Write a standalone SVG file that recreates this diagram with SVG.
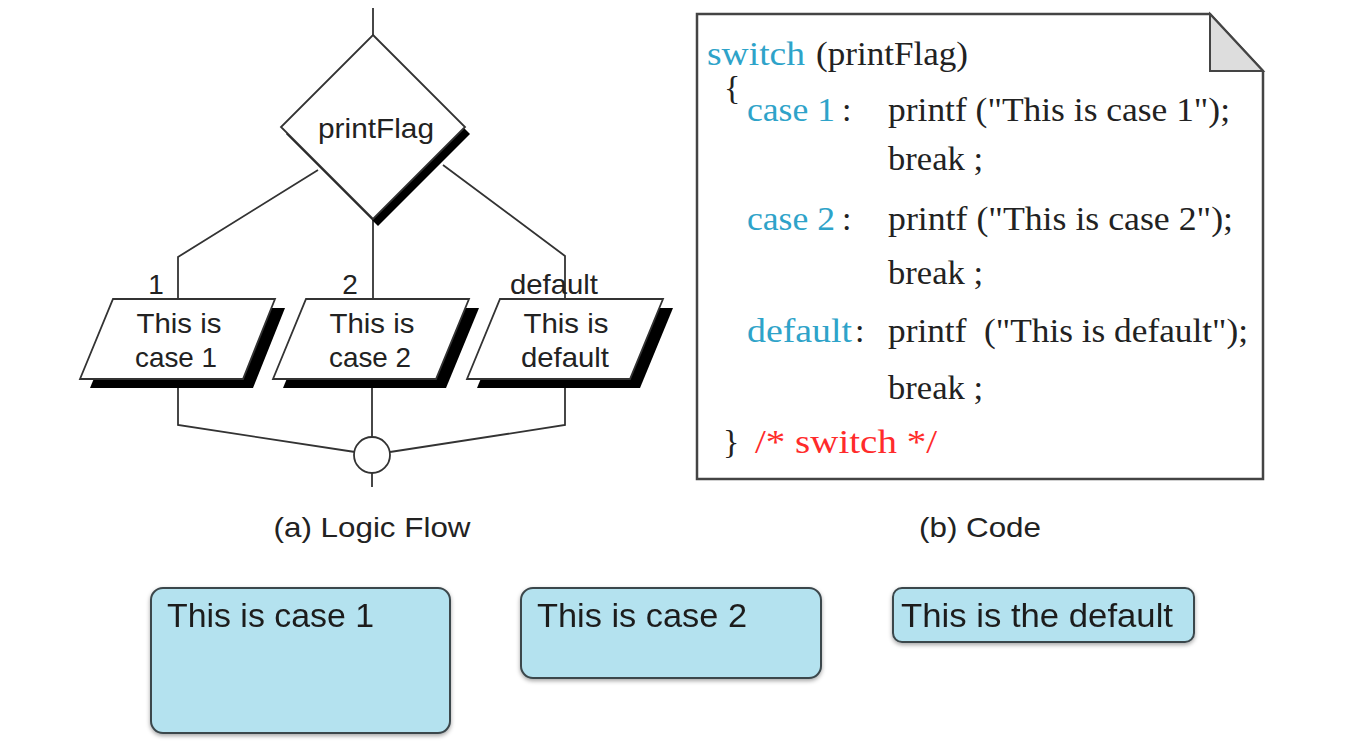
<svg xmlns="http://www.w3.org/2000/svg" width="1350" height="743" viewBox="0 0 1350 743">
<defs>
<style>
.ln{fill:none;stroke:#333;stroke-width:1.8}
.shape{fill:#fff;stroke:#333;stroke-width:1.8}
.shadow{fill:#000;stroke:none}
.sans{font-family:"Liberation Sans",Arial,sans-serif;fill:#222}
.fl{font-size:28px}
.serif{font-family:"Liberation Serif","Times New Roman",serif;font-size:34px;fill:#222}
.kw{fill:#2ea3c9}
.cm{fill:#ff2b2b}
.card{fill:#b4e2ef;stroke:#3b474c;stroke-width:2}
.cardtxt{font-family:"Liberation Sans",Arial,sans-serif;font-size:34px;fill:#1e1e1e}
</style>
<filter id="soft" x="-10%" y="-10%" width="120%" height="130%">
<feDropShadow dx="0" dy="2" stdDeviation="2" flood-color="#000" flood-opacity="0.35"/>
</filter>
</defs>
<rect width="1350" height="743" fill="#fff"/>

<g id="connectors">
<line class="ln" x1="373" y1="8" x2="373" y2="35"/>
<polyline class="ln" points="318,170 178,257 178,299"/>
<line class="ln" x1="373" y1="219" x2="373" y2="299"/>
<polyline class="ln" points="443,165 565,256 565,299"/>
<polyline class="ln" points="178,388 178,425 355,452"/>
<line class="ln" x1="372" y1="388" x2="372" y2="437"/>
<polyline class="ln" points="565,388 565,425 390,452"/>
<line class="ln" x1="372" y1="473" x2="372" y2="487"/>
</g>

<g id="decision">
<polygon class="shadow" points="378,42 470,134 378,226 286,134"/>
<polygon class="shape" points="373,35 465,127 373,219 281,127"/>
<text class="sans fl" x="376" y="138" text-anchor="middle" textLength="116" lengthAdjust="spacingAndGlyphs">printFlag</text>
</g>

<g id="case1">
<polygon class="shadow" points="123,308 285,308 253,388 90,388"/>
<polygon class="shape" points="113,299 275,299 243,379 80,379"/>
<text class="sans fl" x="179" y="333" text-anchor="middle" textLength="85" lengthAdjust="spacingAndGlyphs">This is</text>
<text class="sans fl" x="176" y="367" text-anchor="middle" textLength="82" lengthAdjust="spacingAndGlyphs">case 1</text>
<text class="sans fl" x="156" y="294" text-anchor="middle">1</text>
</g>

<g id="case2">
<polygon class="shadow" points="316,308 479,308 446,388 283,388"/>
<polygon class="shape" points="306,299 469,299 436,379 273,379"/>
<text class="sans fl" x="372" y="333" text-anchor="middle" textLength="85" lengthAdjust="spacingAndGlyphs">This is</text>
<text class="sans fl" x="370" y="367" text-anchor="middle" textLength="82" lengthAdjust="spacingAndGlyphs">case 2</text>
<text class="sans fl" x="350" y="294" text-anchor="middle">2</text>
</g>

<g id="default">
<polygon class="shadow" points="510,308 673,308 640,388 477,388"/>
<polygon class="shape" points="500,299 663,299 630,379 467,379"/>
<text class="sans fl" x="566" y="333" text-anchor="middle" textLength="85" lengthAdjust="spacingAndGlyphs">This is</text>
<text class="sans fl" x="565" y="367" text-anchor="middle" textLength="88" lengthAdjust="spacingAndGlyphs">default</text>
<text class="sans fl" x="554" y="294" text-anchor="middle" textLength="88" lengthAdjust="spacingAndGlyphs">default</text>
</g>

<g id="merge">
<circle class="shape" cx="372" cy="455" r="18"/>
</g>

<text class="sans fl" x="372" y="537" text-anchor="middle" textLength="197" lengthAdjust="spacingAndGlyphs">(a) Logic Flow</text>

<g id="code">
<path d="M697,14 H1210 L1263,71 V479 H697 Z" fill="#fff" stroke="#444" stroke-width="2.5"/>
<polygon points="1210,14 1210,71 1263,71" fill="#ddd" stroke="#444" stroke-width="2"/>
<text class="serif kw" x="707" y="65" textLength="98" lengthAdjust="spacingAndGlyphs">switch</text>
<text class="serif" x="816" y="65" textLength="152" lengthAdjust="spacingAndGlyphs">(printFlag)</text>
<text class="serif" x="724" y="99" font-size="20">{</text>
<text class="serif kw" x="747" y="121" textLength="88" lengthAdjust="spacingAndGlyphs">case 1</text>
<text class="serif" x="842" y="121">:</text>
<text class="serif" x="888" y="121" textLength="342" lengthAdjust="spacingAndGlyphs">printf ("This is case 1");</text>
<text class="serif" x="888" y="170" textLength="95" lengthAdjust="spacingAndGlyphs">break ;</text>
<text class="serif kw" x="747" y="230" textLength="88" lengthAdjust="spacingAndGlyphs">case 2</text>
<text class="serif" x="842" y="230">:</text>
<text class="serif" x="888" y="230" textLength="345" lengthAdjust="spacingAndGlyphs">printf ("This is case 2");</text>
<text class="serif" x="888" y="284" textLength="95" lengthAdjust="spacingAndGlyphs">break ;</text>
<text class="serif kw" x="747" y="342" textLength="105" lengthAdjust="spacingAndGlyphs">default</text>
<text class="serif" x="855" y="342">:</text>
<text class="serif" x="888" y="342" textLength="360" lengthAdjust="spacingAndGlyphs" xml:space="preserve">printf  ("This is default");</text>
<text class="serif" x="888" y="399" textLength="95" lengthAdjust="spacingAndGlyphs">break ;</text>
<text class="serif" x="723" y="453">}</text>
<text class="serif cm" x="755" y="453" textLength="182" lengthAdjust="spacingAndGlyphs">/* switch */</text>
</g>

<text class="sans fl" x="980" y="537" text-anchor="middle" textLength="122" lengthAdjust="spacingAndGlyphs">(b) Code</text>

<g id="out1" filter="url(#soft)">
<rect class="card" x="151" y="588" width="299" height="145" rx="12"/>
<text class="cardtxt" x="167" y="627" textLength="207" lengthAdjust="spacingAndGlyphs">This is case 1</text>
</g>
<g id="out2" filter="url(#soft)">
<rect class="card" x="521" y="588" width="300" height="90" rx="12"/>
<text class="cardtxt" x="537" y="627" textLength="210" lengthAdjust="spacingAndGlyphs">This is case 2</text>
</g>
<g id="out3" filter="url(#soft)">
<rect class="card" x="893" y="588" width="301" height="54" rx="9"/>
<text class="cardtxt" x="901" y="627" textLength="272" lengthAdjust="spacingAndGlyphs">This is the default</text>
</g>
</svg>
